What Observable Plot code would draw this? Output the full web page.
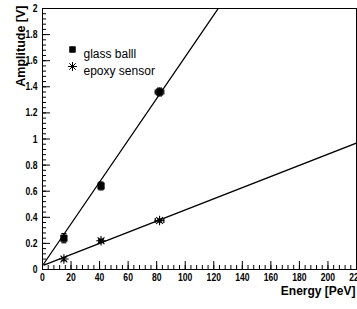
<!DOCTYPE html>
<html>
<head>
<meta charset="utf-8">
<script src="https://cdn.jsdelivr.net/npm/d3@7"></script>
<script src="https://cdn.jsdelivr.net/npm/@observablehq/plot@0.6"></script>
<style>
  html, body { margin: 0; padding: 0; background: #fff; overflow: hidden; }
  #chart svg { display: block; }
</style>
</head>
<body>
<div id="chart"></div>
<script>
// ---- data ----
const energy = [15, 41, 82];            // PeV
const energyErr = [0.6, 1.5, 3];
const glassAmp = [0.24, 0.64, 1.36];    // V
const glassErr = [0.035, 0.03, 0.03];
const epoxyAmp = [0.08, 0.22, 0.375];
const epoxyErr = [0.012, 0.012, 0.012];
// linear fits: [intercept, slope], drawn over fitRange
const glassFit = [0.03, 0.016];
const epoxyFit = [0.03, 0.00427];
const fitRange = [1, 220];
const seriesNames = ["glass balll", "epoxy sensor"];
const xTicks = [0, 20, 40, 60, 80, 100, 120, 140, 160, 180, 200, 220];
const yTicks = [0, 0.2, 0.4, 0.6, 0.8, 1, 1.2, 1.4, 1.6, 1.8, 2];
const xMinorTicks = d3.range(0, 221, 4);
const yMinorTicks = d3.range(0, 2.001, 0.04);

// ---- tables ----
const points = [];
energy.forEach((e, i) => {
  points.push({series: seriesNames[0], e, ex: energyErr[i], a: glassAmp[i], ea: glassErr[i]});
  points.push({series: seriesNames[1], e, ex: energyErr[i], a: epoxyAmp[i], ea: epoxyErr[i]});
});
const glassPts = points.filter(d => d.series === seriesNames[0]);
const epoxyPts = points.filter(d => d.series === seriesNames[1]);
const fitLines = [];
[[seriesNames[0], glassFit], [seriesNames[1], epoxyFit]].forEach(([s, [a, b]]) => {
  fitRange.forEach(x => fitLines.push({series: s, e: x, a: a + b * x}));
});

const capH = {draw(ctx, size) { const r = Math.sqrt(size / Math.PI); ctx.moveTo(-r, 0); ctx.lineTo(r, 0); }};
const capV = {draw(ctx, size) { const r = Math.sqrt(size / Math.PI); ctx.moveTo(0, -r); ctx.lineTo(0, r); }};

const tickFont = {fontFamily: "'Liberation Sans', Arial, sans-serif", fontWeight: "bold", fontSize: 11};

const chart = Plot.plot({
  width: 357,
  height: 309,
  marginLeft: 42,
  marginRight: 1,
  marginTop: 8,
  marginBottom: 40,
  style: {fontFamily: "'Liberation Sans', Arial, sans-serif", background: "#fff", color: "#000"},
  x: {domain: [0, 220]},
  y: {domain: [0, 2]},
  marks: [
    // minor ticks
    Plot.axisX(xMinorTicks, {tickSize: -4, tickFormat: () => "", label: null, stroke: "#000"}),
    Plot.axisY(yMinorTicks, {tickSize: -4, tickFormat: () => "", label: null, stroke: "#000"}),
    // major ticks + labels
    Plot.axisX(xTicks, {tickSize: -8, tickPadding: 12, label: null, stroke: "#000", ...tickFont, tickFormat: d => String(d)}),
    Plot.axisY(yTicks, {tickSize: -8, tickPadding: 13, label: null, stroke: "#000", ...tickFont, tickFormat: d => String(d)}),
    Plot.frame({stroke: "#000", strokeWidth: 1}),
    // fit lines
    Plot.line(fitLines, {x: "e", y: "a", z: "series", stroke: "#000", strokeWidth: 1.3, clip: true}),
    // error bars
    Plot.ruleX(points, {x: "e", y1: d => d.a - d.ea, y2: d => d.a + d.ea, stroke: "#000", strokeWidth: 1.2}),
    Plot.ruleY(points, {y: "a", x1: d => d.e - d.ex, x2: d => d.e + d.ex, stroke: "#000", strokeWidth: 1.2}),
    Plot.dot(points, {x: "e", y: d => d.a - d.ea, symbol: capH, r: 2.5, fill: "none", stroke: "#000", strokeWidth: 1.2}),
    Plot.dot(points, {x: "e", y: d => d.a + d.ea, symbol: capH, r: 2.5, fill: "none", stroke: "#000", strokeWidth: 1.2}),
    Plot.dot(points.filter(d => d.ex > 1), {x: d => d.e - d.ex, y: "a", symbol: capV, r: 2.5, fill: "none", stroke: "#000", strokeWidth: 1.2}),
    Plot.dot(points.filter(d => d.ex > 1), {x: d => d.e + d.ex, y: "a", symbol: capV, r: 2.5, fill: "none", stroke: "#000", strokeWidth: 1.2}),
    // markers
    Plot.dot(glassPts, {x: "e", y: "a", symbol: "square", r: 3.6, fill: "#000", stroke: "#000", strokeWidth: 0.8, strokeLinejoin: "round"}),
    Plot.dot(epoxyPts, {x: "e", y: "a", symbol: "plus", r: 3.2, stroke: "#000", strokeWidth: 1.1}),
    Plot.dot(epoxyPts, {x: "e", y: "a", symbol: "times", r: 3.2, stroke: "#000", strokeWidth: 1.1}),
    // legend
    Plot.dot([seriesNames[0]], {frameAnchor: "top-left", dx: 30, dy: 41, symbol: "square", r: 3.2, fill: "#000", stroke: "#000", strokeWidth: 0.8}),
    Plot.dot([seriesNames[1]], {frameAnchor: "top-left", dx: 30, dy: 58, symbol: "plus", r: 3, stroke: "#000", strokeWidth: 1}),
    Plot.dot([seriesNames[1]], {frameAnchor: "top-left", dx: 30, dy: 58, symbol: "times", r: 3, stroke: "#000", strokeWidth: 1}),
    Plot.text([seriesNames[0]], {text: d => d, frameAnchor: "top-left", dx: 41, dy: 41, textAnchor: "start", fontSize: 12, fill: "#000"}),
    Plot.text([seriesNames[1]], {text: d => d, frameAnchor: "top-left", dx: 41, dy: 58, textAnchor: "start", fontSize: 12, fill: "#000"}),
    // axis titles
    Plot.text(["Amplitude [V]"], {text: d => d, frameAnchor: "top-left", dx: -26, dy: -3, rotate: -90, textAnchor: "end", fontSize: 12.5, fontWeight: "bold", fill: "#000"}),
    Plot.text(["Energy [PeV]"], {text: d => d, frameAnchor: "bottom-right", dx: -1, dy: 25, textAnchor: "end", fontSize: 12, fontWeight: "bold", fill: "#000"})
  ]
});
document.getElementById("chart").appendChild(chart);

// condense the tick labels like the reference's narrow bold face
chart.querySelectorAll('g[aria-label="x-axis tick label"] text, g[aria-label="y-axis tick label"] text').forEach(t => {
  if (!t.textContent) return;
  const w = t.getComputedTextLength();
  t.setAttribute("textLength", (w * 0.78).toFixed(2));
  t.setAttribute("lengthAdjust", "spacingAndGlyphs");
});
</script>
</body>
</html>
